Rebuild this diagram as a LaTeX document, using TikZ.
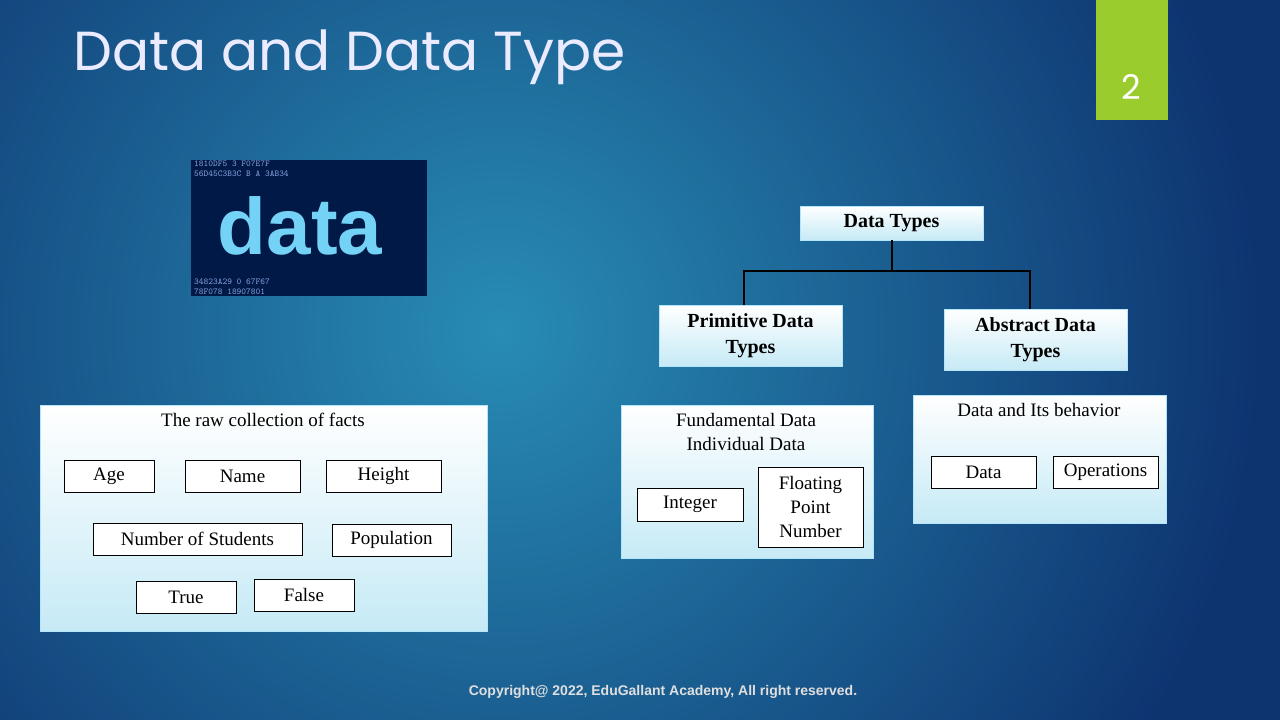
\documentclass[tikz,border=0pt]{standalone}
\usepackage{fontspec}
\setmainfont{Liberation Serif}
\newfontfamily\titlefont{Poppins}
\newfontfamily\cfont{Liberation Sans}
\begin{document}
\begin{tikzpicture}[x=1pt,y=-1pt,
  panel/.style={draw=white!70!cyan,top color=white,bottom color=paneb},
  item/.style={draw=black,fill=white,line width=0.8pt,font=\fontsize{19}{22}\selectfont,align=center,inner sep=0pt},
  head/.style={draw=white!70!cyan,top color=white,bottom color=paneb,font=\bfseries\fontsize{20}{26}\selectfont,align=center,inner sep=0pt},
  lbl/.style={font=\fontsize{19}{24}\selectfont,align=center}]
\definecolor{bgdark}{RGB}{14,52,112}
\definecolor{bglight}{RGB}{40,140,180}
\definecolor{lime}{RGB}{154,204,46}
\definecolor{paneb}{RGB}{198,234,246}
\useasboundingbox (0,0) rectangle (1280,720);
\fill[bgdark] (0,0) rectangle (1280,720);
\begin{scope}
\clip (0,0) rectangle (1280,720);
\shade[inner color=bglight,outer color=bgdark] (500,330) circle (760);
\end{scope}
% title
\node[anchor=base west,text=white!92!blue,font=\titlefont\fontsize{55}{64}\selectfont,inner sep=0pt] (title) at (73,70) {Data and Data Type};
\fill[lime] (1096,0) rectangle (1168,120);
\node[text=white,font=\titlefont\fontsize{34}{40}\selectfont] (num) at (1131,87) {2};
% data image
\fill[black!80!blue!90!cyan] (191,160) rectangle (427,296);
\node[text=cyan!40!blue!50!white,font=\ttfamily\fontsize{9}{10}\selectfont,align=left,anchor=north west,inner sep=1pt] (hex) at (193,160) {1810DF5 3 F07E7F\\56D45C3B3C B A 3AB34};
\node[text=cyan!40!blue!50!white,font=\ttfamily\fontsize{9}{10}\selectfont,align=left,anchor=south west,inner sep=1pt] (hex2) at (193,296) {34823A29 0 67F67\\78F078 18907801};
\node[text=cyan!55!white,font=\cfont\bfseries\fontsize{80}{84}\selectfont,inner sep=0pt] (dataimg) at (300,226) {data};
% left panel
\node[panel,minimum width=447,minimum height=226,anchor=north west] (raw) at (40,405) {};
\node[lbl] (rawt) at (263,420) {The raw collection of facts};
\node[item,minimum width=90,minimum height=32] (age) at (109,476) {Age};
\node[item,minimum width=115,minimum height=32] (name) at (242.5,476) {Name};
\node[item,minimum width=115,minimum height=32] (height) at (383.5,476) {Height};
\node[item,minimum width=209,minimum height=32] (nos) at (197.5,539) {Number of Students};
\node[item,minimum width=119,minimum height=32] (pop) at (391.5,540) {Population};
\node[item,minimum width=100,minimum height=32] (true) at (186,597) {True};
\node[item,minimum width=100,minimum height=32] (false) at (304,595) {False};
% tree
\node[head,minimum width=183,minimum height=34] (dt) at (891.5,223) {Data Types};
\node[head,minimum width=183,minimum height=61] (prim) at (750.5,335.5) {Primitive Data\\Types};
\node[head,minimum width=183,minimum height=61] (abs) at (1035.5,339.5) {Abstract Data\\Types};
\coordinate (j) at (891.5,271);
\draw[line width=2pt] (dt.south) -- (j) -| (744,305);
\draw[line width=2pt] (j) -| (1030,309);
% fundamental
\node[panel,minimum width=252,minimum height=153,anchor=north west] (fund) at (621,405) {};
\node[lbl] (fundt) at (746,432) {Fundamental Data\\Individual Data};
\node[item,minimum width=106,minimum height=33] (int) at (690,504.5) {Integer};
\node[item,minimum width=105,minimum height=80,font=\fontsize{19}{24}\selectfont] (flt) at (810.5,507) {Floating\\Point\\Number};
% behavior
\node[panel,minimum width=253,minimum height=128,anchor=north west] (beh) at (913,395) {};
\node[lbl] (beht) at (1039,410) {Data and Its behavior};
\node[item,minimum width=105,minimum height=32] (data) at (983.5,472) {Data};
\node[item,minimum width=105,minimum height=32] (ops) at (1105.5,472) {Operations};
\node[text=white!75!gray,font=\cfont\bfseries\fontsize{14}{16}\selectfont] (copy) at (663,692) {Copyright@ 2022, EduGallant Academy, All right reserved.};
\end{tikzpicture}
\end{document}
